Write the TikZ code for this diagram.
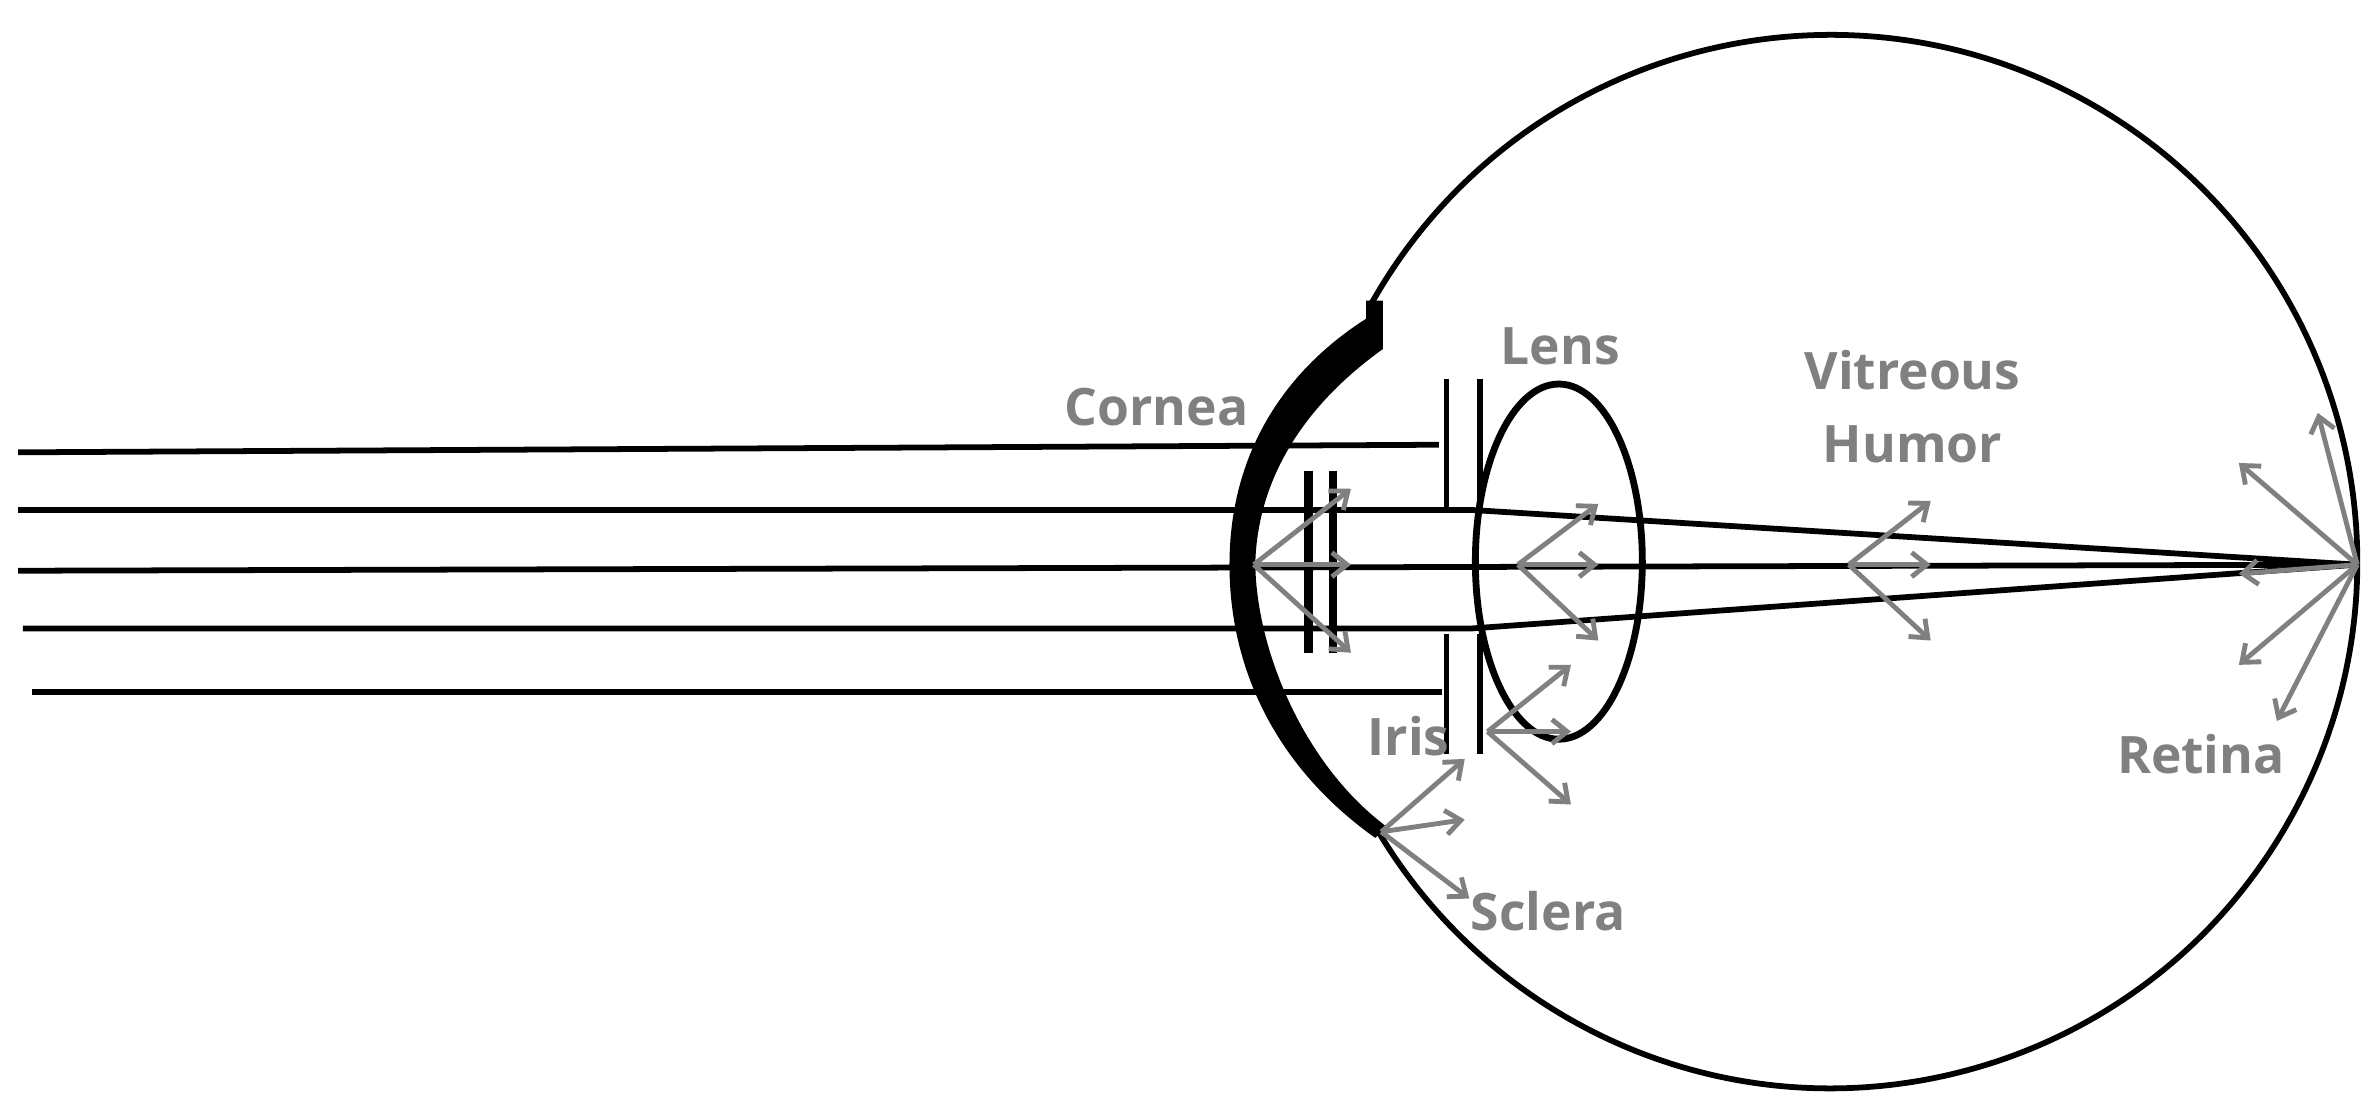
\documentclass[tikz,border=0pt]{standalone}
\usepackage{fontspec}
\setmainfont{Open Sans}
\usetikzlibrary{arrows.meta}
\begin{document}
\begin{tikzpicture}[x=1pt,y=-1pt,
  blk/.style={line width=3.8pt,black},
  gar/.style={draw=gray,line width=3.2pt,-{Straight Barb[length=10pt,width=16pt,line width=3.2pt]}},
  lab/.style={text=gray,font=\bfseries\fontsize{34}{48}\selectfont,align=center}]
\useasboundingbox (0,0) rectangle (1568,729.3);
% eyeball
\coordinate (C) at (1206,370);
\draw[blk] (C) ++(209.5:347) arc[start angle=-150.5,end angle=150.5,radius=347];
% cornea
\fill (900,198) -- (911,198) -- (911,230) .. controls (855,270) and (828,320) .. (827,372)
  .. controls (828,430) and (860,505) .. (914,545) -- (906,552)
  .. controls (840,505) and (810,440) .. (810,372) .. controls (810,300) and (845,245) .. (900,210) -- cycle;
% rays
\coordinate (R) at (1553,372);
\draw[blk] (12,298) -- (948,293);
\draw[blk] (12,336) -- (970,336) -- (R);
\draw[blk] (12,376) -- (R);
\draw[blk] (15,414) -- (970,414) -- (R);
\draw[blk] (21,456) -- (950,456);
% iris
\draw[blk] (953,250) -- (953,335) (975,250) -- (975,335);
\draw[blk] (953,418) -- (953,497) (975,418) -- (975,497);
% lens
\draw[blk,line width=4.5pt] (1027,370) ellipse[x radius=55,y radius=117];
% small double lines
\draw[black,line width=5.5pt] (862,310) -- (862,430) (878,310) -- (878,430);
% arrows
\coordinate (a1) at (826,372);
\foreach \p in {(890,322),(890,372),(890,430)} \draw[gar] (a1) -- \p;
\coordinate (a2) at (1000,372);
\foreach \p in {(1053,332),(1053,372),(1053,422)} \draw[gar] (a2) -- \p;
\coordinate (a3) at (1218,372);
\foreach \p in {(1272,330),(1272,372),(1272,422)} \draw[gar] (a3) -- \p;
\foreach \p in {(1475,305),(1527,272),(1475,378),(1475,438),(1500,475)} \draw[gar] (R) -- \p;
\coordinate (a4) at (980,482);
\foreach \p in {(1035,438),(1035,482),(1035,530)} \draw[gar] (a4) -- \p;
\coordinate (a5) at (910,548);
\foreach \p in {(965,500),(965,540),(968,592)} \draw[gar] (a5) -- \p;
% labels
\node[lab] (cornea) at (762,268) {Cornea};
\node[lab] (lens) at (1028,228) {Lens};
\node[lab] (vit) at (1260,268) {Vitreous\\Humor};
\node[lab] (iris) at (928,485) {Iris};
\node[lab] (retina) at (1450,497) {Retina};
\node[lab] (sclera) at (1020,600) {Sclera};
\end{tikzpicture}
\end{document}
